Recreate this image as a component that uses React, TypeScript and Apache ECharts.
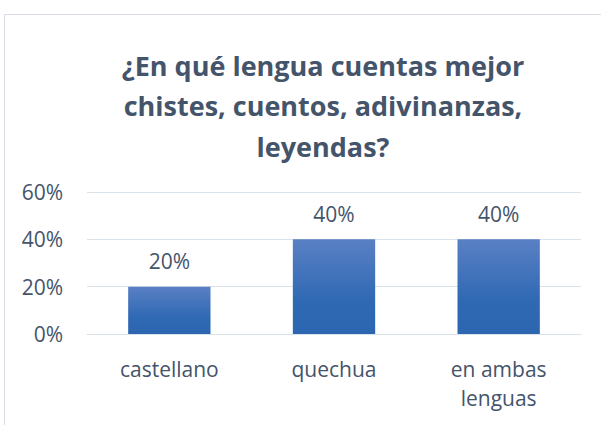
import React, { useEffect, useRef } from "react";
import * as echarts from "echarts";

const categories = ["castellano", "quechua", "en ambas\nlenguas"];
const values = [20, 40, 40];
const yTicks = [0, 20, 40, 60];
const titleText = "¿En qué lengua cuentas mejor\nchistes, cuentos, adivinanzas,\nleyendas?";

const FONT = "Open Sans";
const TEXT = "#44546A";
const GRID = "#D9E1EA";

export default function App() {
  const ref = useRef<HTMLDivElement>(null);
  useEffect(() => {
    document.body.style.margin = "0";
    const chart = echarts.init(ref.current!, null, { renderer: "svg" });
    chart.setOption({
      animation: false,
      backgroundColor: "#ffffff",
      graphic: [
        {
          type: "rect",
          shape: { x: 4.5, y: 14.5, width: 700, height: 500 },
          style: { fill: "none", stroke: "#D9DEE6", lineWidth: 1 },
          silent: true,
        },
      ],
      title: {
        text: titleText,
        left: 318,
        textAlign: "center",
        top: 40,
        textStyle: {
          fontFamily: FONT,
          fontWeight: "bold",
          fontSize: 27,
          lineHeight: 40.5,
          color: TEXT,
        },
      },
      grid: { left: 87, right: 20, top: 192, bottom: 91, containLabel: false },
      xAxis: {
        type: "category",
        data: categories,
        axisTick: { show: false },
        axisLine: { show: true, lineStyle: { color: GRID, width: 1 } },
        axisLabel: {
          fontFamily: FONT,
          fontSize: 21,
          color: TEXT,
          lineHeight: 29,
          margin: 20,
          interval: 0,
        },
      },
      yAxis: {
        type: "value",
        min: yTicks[0],
        max: yTicks[yTicks.length - 1],
        interval: yTicks[1] - yTicks[0],
        axisLine: { show: false },
        axisTick: { show: false },
        splitLine: { lineStyle: { color: GRID, width: 1 } },
        axisLabel: {
          fontFamily: FONT,
          fontSize: 21,
          color: TEXT,
          margin: 24,
          formatter: (v: number) => v + "%",
        },
      },
      series: [
        {
          type: "bar",
          data: values,
          barWidth: "50%",
          itemStyle: {
            color: new echarts.graphic.LinearGradient(0, 0, 0, 1, [
              { offset: 0, color: "#5A80C4" },
              { offset: 0.65, color: "#2F69B3" },
              { offset: 1, color: "#2C66B1" },
            ]),
          },
          label: {
            show: true,
            position: "top",
            distance: 15,
            fontFamily: FONT,
            fontSize: 21,
            color: TEXT,
            formatter: (p: any) => p.value + "%",
          },
        },
      ],
    });
    return () => chart.dispose();
  }, []);
  return <div ref={ref} style={{ width: 601, height: 425 }} />;
}
